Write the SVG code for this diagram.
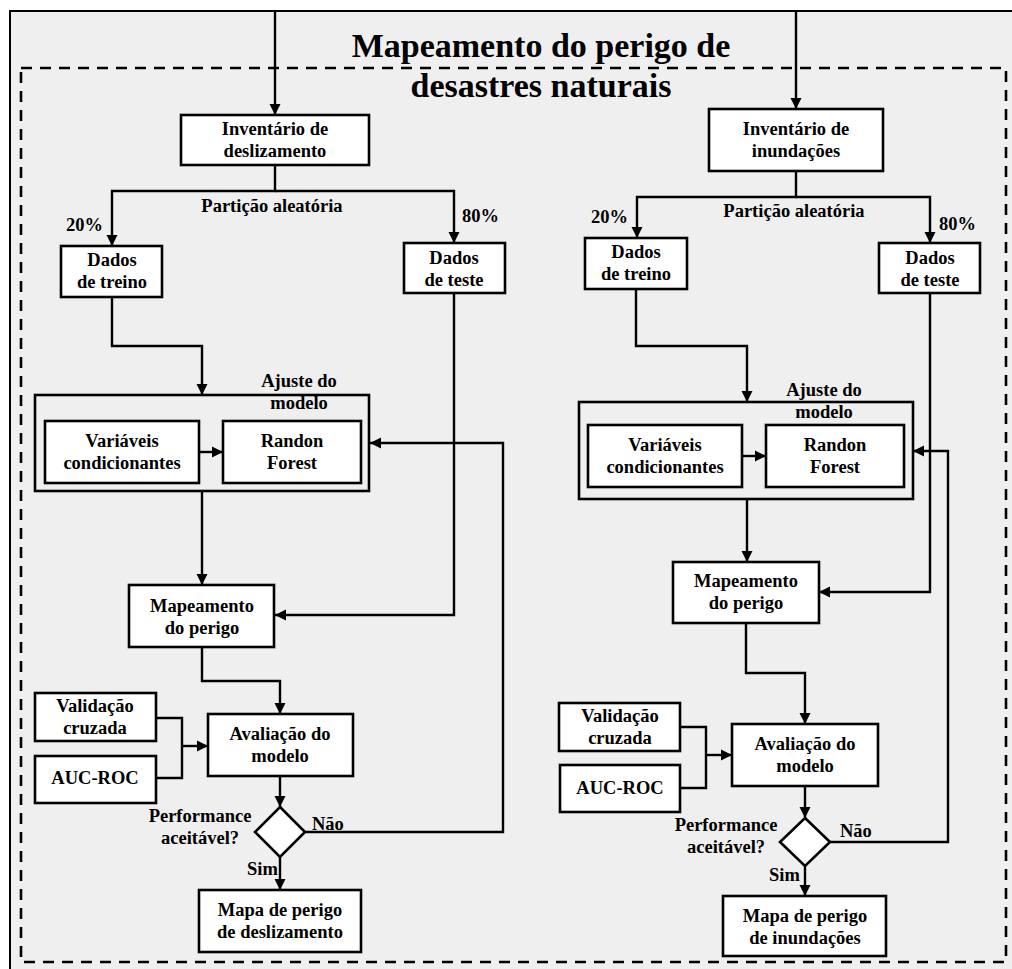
<svg xmlns="http://www.w3.org/2000/svg" width="1012" height="969" viewBox="0 0 1012 969">
  <style>
    .frame { fill: #efefef; stroke: #000; stroke-width: 2; }
    .dash { fill: none; stroke: #000; stroke-width: 2.6; stroke-dasharray: 11 8; }
    .box { fill: #fff; stroke: #000; stroke-width: 2.6; }
    .group { fill: none; stroke: #000; stroke-width: 2.6; }
    .edge { fill: none; stroke: #000; stroke-width: 2.4; }
    .arrow { marker-end: url(#head); }
    text { font-family: "Liberation Serif", "Times New Roman", serif; font-weight: bold; fill: #000; }
    .lbl { font-size: 18.5px; text-anchor: middle; }
    .side { font-size: 18.5px; }
    .title { font-size: 34px; text-anchor: middle; }
  </style>
  <defs>
    <marker id="head" markerUnits="userSpaceOnUse" markerWidth="12" markerHeight="12" viewBox="0 0 12 12" refX="11" refY="6" orient="auto">
      <path d="M0,0.5 L11,6 L0,11.5 z" fill="#000"/>
    </marker>
  </defs>

  <rect width="1012" height="969" fill="#fff"/>
  <rect class="frame" x="10" y="11" width="1010" height="970"/>
  <rect class="dash" x="21" y="68" width="985" height="894"/>

  <g id="title">
    <text class="title" x="541" y="57">Mapeamento do perigo de</text>
    <text class="title" x="541" y="97">desastres naturais</text>
  </g>

  <!-- connectors -->
  <g id="connectors">
    <!-- landslide branch -->
    <path class="edge arrow" d="M275,11 V115"/>
    <path class="edge arrow" d="M275,165 V191 H112 V246"/>
    <path class="edge arrow" d="M275,191 H454 V243"/>
    <path class="edge arrow" d="M112,297 V346 H202 V395"/>
    <path class="edge arrow" d="M199,452 H223"/>
    <path class="edge arrow" d="M202,491 V585"/>
    <path class="edge arrow" d="M454,293 V615 H275"/>
    <path class="edge arrow" d="M202,647 V681 H280 V714"/>
    <path class="edge" d="M156,718 H182 V778 H156"/>
    <path class="edge arrow" d="M182,746 H208"/>
    <path class="edge arrow" d="M280,776 V807"/>
    <path class="edge arrow" d="M280,857 V890"/>
    <path class="edge arrow" d="M305,832 H503 V443 H370"/>
    <!-- flood branch -->
    <path class="edge arrow" d="M796,11 V109"/>
    <path class="edge arrow" d="M796,171 V197 H637 V238"/>
    <path class="edge arrow" d="M796,197 H930 V243"/>
    <path class="edge arrow" d="M636,289 V346 H747 V402"/>
    <path class="edge arrow" d="M742,456 H766"/>
    <path class="edge arrow" d="M747,499 V562"/>
    <path class="edge arrow" d="M930,293 V592 H819"/>
    <path class="edge arrow" d="M746,623 V673 H805 V724"/>
    <path class="edge" d="M680,727 H706 V788 H680"/>
    <path class="edge arrow" d="M706,755 H732"/>
    <path class="edge arrow" d="M805,786 V818"/>
    <path class="edge arrow" d="M805,866 V896"/>
    <path class="edge arrow" d="M830,842 H948 V451 H913"/>
  </g>

  <!-- landslide nodes -->
  <g id="inv-desl">
    <rect class="box" x="181" y="115" width="188" height="50"/>
    <text class="lbl" x="275" y="135">Inventário de</text>
    <text class="lbl" x="275" y="157">deslizamento</text>
  </g>
  <g id="part-desl">
    <text class="lbl" x="272" y="212">Partição aleatória</text>
    <text class="side" x="66" y="231">20%</text>
    <text class="side" x="462" y="222">80%</text>
  </g>
  <g id="treino-desl">
    <rect class="box" x="61" y="246" width="101" height="51"/>
    <text class="lbl" x="112" y="266">Dados</text>
    <text class="lbl" x="112" y="288">de treino</text>
  </g>
  <g id="teste-desl">
    <rect class="box" x="404" y="243" width="101" height="50"/>
    <text class="lbl" x="454" y="264">Dados</text>
    <text class="lbl" x="454" y="286">de teste</text>
  </g>
  <g id="ajuste-desl">
    <rect class="group" x="35" y="395" width="334" height="96"/>
    <text class="lbl" x="299" y="387">Ajuste do</text>
    <text class="lbl" x="299" y="409">modelo</text>
  </g>
  <g id="var-desl">
    <rect class="box" x="45" y="421" width="154" height="62"/>
    <text class="lbl" x="122" y="447">Variáveis</text>
    <text class="lbl" x="122" y="469">condicionantes</text>
  </g>
  <g id="rf-desl">
    <rect class="box" x="223" y="421" width="138" height="62"/>
    <text class="lbl" x="292" y="447">Randon</text>
    <text class="lbl" x="292" y="469">Forest</text>
  </g>
  <g id="map-desl">
    <rect class="box" x="129" y="585" width="145" height="62"/>
    <text class="lbl" x="202" y="612">Mapeamento</text>
    <text class="lbl" x="202" y="634">do perigo</text>
  </g>
  <g id="valid-desl">
    <rect class="box" x="35" y="693" width="121" height="48"/>
    <text class="lbl" x="95" y="712">Validação</text>
    <text class="lbl" x="95" y="734">cruzada</text>
  </g>
  <g id="auc-desl">
    <rect class="box" x="35" y="756" width="121" height="47"/>
    <text class="lbl" x="95" y="784">AUC-ROC</text>
  </g>
  <g id="aval-desl">
    <rect class="box" x="208" y="714" width="145" height="62"/>
    <text class="lbl" x="280" y="740">Avaliação do</text>
    <text class="lbl" x="280" y="762">modelo</text>
  </g>
  <g id="dec-desl">
    <polygon class="box" points="280,807 305,832 280,857 255,832"/>
    <text class="lbl" x="200" y="822">Performance</text>
    <text class="lbl" x="200" y="844">aceitável?</text>
    <text class="side" x="312" y="830">Não</text>
    <text class="side" x="247" y="875">Sim</text>
  </g>
  <g id="final-desl">
    <rect class="box" x="199" y="890" width="162" height="62"/>
    <text class="lbl" x="280" y="916">Mapa de perigo</text>
    <text class="lbl" x="280" y="938">de deslizamento</text>
  </g>

  <!-- flood nodes -->
  <g id="inv-inund">
    <rect class="box" x="709" y="109" width="174" height="62"/>
    <text class="lbl" x="796" y="135">Inventário de</text>
    <text class="lbl" x="796" y="157">inundações</text>
  </g>
  <g id="part-inund">
    <text class="lbl" x="794" y="217">Partição aleatória</text>
    <text class="side" x="591" y="223">20%</text>
    <text class="side" x="939" y="230">80%</text>
  </g>
  <g id="treino-inund">
    <rect class="box" x="585" y="238" width="102" height="51"/>
    <text class="lbl" x="636" y="258">Dados</text>
    <text class="lbl" x="636" y="280">de treino</text>
  </g>
  <g id="teste-inund">
    <rect class="box" x="879" y="243" width="101" height="50"/>
    <text class="lbl" x="930" y="264">Dados</text>
    <text class="lbl" x="930" y="286">de teste</text>
  </g>
  <g id="ajuste-inund">
    <rect class="group" x="579" y="402" width="334" height="97"/>
    <text class="lbl" x="824" y="396">Ajuste do</text>
    <text class="lbl" x="824" y="418">modelo</text>
  </g>
  <g id="var-inund">
    <rect class="box" x="588" y="425" width="154" height="62"/>
    <text class="lbl" x="665" y="451">Variáveis</text>
    <text class="lbl" x="665" y="473">condicionantes</text>
  </g>
  <g id="rf-inund">
    <rect class="box" x="766" y="425" width="138" height="62"/>
    <text class="lbl" x="835" y="451">Randon</text>
    <text class="lbl" x="835" y="473">Forest</text>
  </g>
  <g id="map-inund">
    <rect class="box" x="673" y="562" width="146" height="61"/>
    <text class="lbl" x="746" y="587">Mapeamento</text>
    <text class="lbl" x="746" y="609">do perigo</text>
  </g>
  <g id="valid-inund">
    <rect class="box" x="559" y="703" width="121" height="48"/>
    <text class="lbl" x="620" y="722">Validação</text>
    <text class="lbl" x="620" y="744">cruzada</text>
  </g>
  <g id="auc-inund">
    <rect class="box" x="560" y="765" width="120" height="47"/>
    <text class="lbl" x="620" y="794">AUC-ROC</text>
  </g>
  <g id="aval-inund">
    <rect class="box" x="732" y="724" width="146" height="62"/>
    <text class="lbl" x="805" y="750">Avaliação do</text>
    <text class="lbl" x="805" y="772">modelo</text>
  </g>
  <g id="dec-inund">
    <polygon class="box" points="805,818 830,842 805,866 780,842"/>
    <text class="lbl" x="726" y="831">Performance</text>
    <text class="lbl" x="726" y="853">aceitável?</text>
    <text class="side" x="840" y="837">Não</text>
    <text class="side" x="769" y="881">Sim</text>
  </g>
  <g id="final-inund">
    <rect class="box" x="723" y="896" width="163" height="60"/>
    <text class="lbl" x="805" y="922">Mapa de perigo</text>
    <text class="lbl" x="805" y="944">de inundações</text>
  </g>
</svg>
